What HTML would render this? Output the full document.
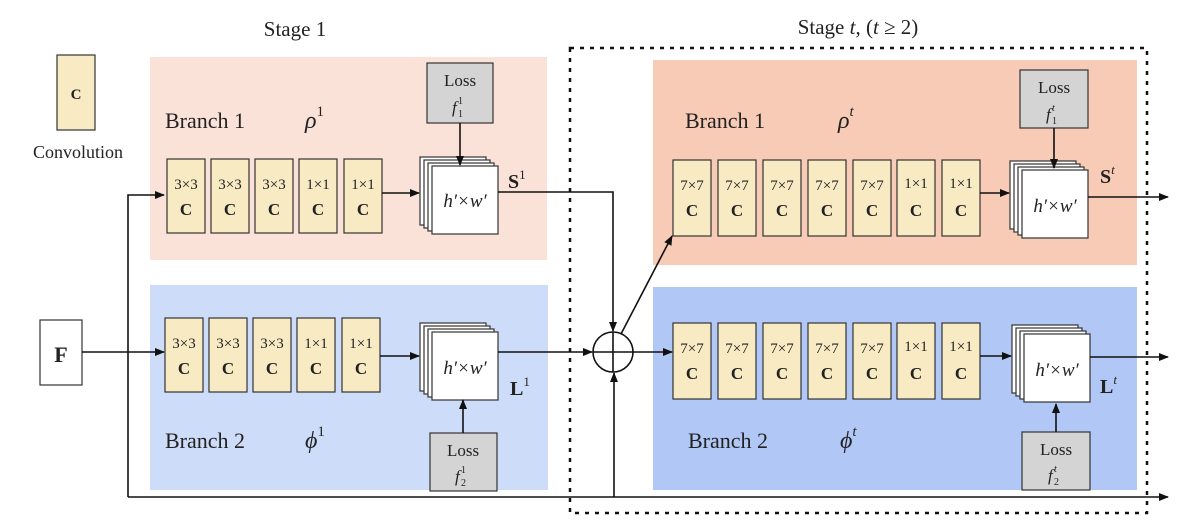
<!DOCTYPE html>
<html><head><meta charset="utf-8"><style>
body{margin:0;background:#fff}
svg{display:block}
text{font-family:"Liberation Serif","DejaVu Serif",serif;fill:#222}
</style></head><body>
<svg width="1177" height="527" viewBox="0 0 1177 527" xmlns="http://www.w3.org/2000/svg">
<defs>
<marker id="a" markerWidth="10" markerHeight="8" refX="9" refY="4" orient="auto" markerUnits="userSpaceOnUse">
<path d="M0,0 L10,4 L0,8 z" fill="#111"/></marker>
</defs>
<text x="295" y="36" font-size="21" text-anchor="middle">Stage 1</text>
<text x="858" y="34" font-size="21" text-anchor="middle">Stage <tspan font-style="italic">t</tspan>, (<tspan font-style="italic">t</tspan> ≥ 2)</text>
<rect x="57" y="55" width="38" height="75" fill="#f8ebc4" stroke="#333" stroke-width="1.2"/>
<text x="76" y="99" font-size="15" font-weight="bold" text-anchor="middle">C</text>
<text x="78" y="158" font-size="18" text-anchor="middle">Convolution</text>
<rect x="150" y="57" width="397" height="203" fill="#fbe2d9"/>
<rect x="150" y="285" width="398" height="205" fill="#cddcf9"/>
<rect x="653" y="60" width="484" height="205" fill="#f8cbb6"/>
<rect x="653" y="287" width="484" height="203" fill="#b1c7f5"/>
<rect x="570" y="48" width="577" height="465" fill="none" stroke="#111" stroke-width="2.5" stroke-dasharray="4,6"/>
<text x="165" y="128" font-size="22">Branch 1</text>
<text x="305" y="128" font-size="24" font-style="italic">ρ<tspan font-size="15" font-style="normal" dy="-12">1</tspan></text>
<text x="165" y="448" font-size="22">Branch 2</text>
<text x="305" y="448" font-size="24" font-style="italic">ϕ<tspan font-size="15" font-style="normal" dy="-12">1</tspan></text>
<text x="685" y="128" font-size="22">Branch 1</text>
<text x="838" y="128" font-size="24" font-style="italic">ρ<tspan font-size="15" dy="-12">t</tspan></text>
<text x="688" y="448" font-size="22">Branch 2</text>
<text x="840" y="448" font-size="24" font-style="italic">ϕ<tspan font-size="15" dy="-12">t</tspan></text>
<g font-size="15" text-anchor="middle">
<g id="r1">
<rect x="167" y="159" width="38" height="74" fill="#f8ebc4" stroke="#333" stroke-width="1.2"/><text x="186" y="189">3×3</text><text x="186" y="215" font-weight="bold" font-size="17">C</text>
<rect x="211" y="159" width="38" height="74" fill="#f8ebc4" stroke="#333" stroke-width="1.2"/><text x="230" y="189">3×3</text><text x="230" y="215" font-weight="bold" font-size="17">C</text>
<rect x="255" y="159" width="38" height="74" fill="#f8ebc4" stroke="#333" stroke-width="1.2"/><text x="274" y="189">3×3</text><text x="274" y="215" font-weight="bold" font-size="17">C</text>
<rect x="299" y="159" width="38" height="74" fill="#f8ebc4" stroke="#333" stroke-width="1.2"/><text x="318" y="189">1×1</text><text x="318" y="215" font-weight="bold" font-size="17">C</text>
<rect x="344" y="159" width="38" height="74" fill="#f8ebc4" stroke="#333" stroke-width="1.2"/><text x="363" y="189">1×1</text><text x="363" y="215" font-weight="bold" font-size="17">C</text>
</g>
<use href="#r1" transform="translate(-2,159)"/>
<g id="r2">
<rect x="673" y="160" width="38" height="76" fill="#f8ebc4" stroke="#333" stroke-width="1.2"/><text x="692" y="190">7×7</text><text x="692" y="216" font-weight="bold" font-size="17">C</text>
<rect x="718" y="160" width="38" height="76" fill="#f8ebc4" stroke="#333" stroke-width="1.2"/><text x="737" y="190">7×7</text><text x="737" y="216" font-weight="bold" font-size="17">C</text>
<rect x="763" y="160" width="38" height="76" fill="#f8ebc4" stroke="#333" stroke-width="1.2"/><text x="782" y="190">7×7</text><text x="782" y="216" font-weight="bold" font-size="17">C</text>
<rect x="808" y="160" width="38" height="76" fill="#f8ebc4" stroke="#333" stroke-width="1.2"/><text x="827" y="190">7×7</text><text x="827" y="216" font-weight="bold" font-size="17">C</text>
<rect x="853" y="160" width="38" height="76" fill="#f8ebc4" stroke="#333" stroke-width="1.2"/><text x="872" y="190">7×7</text><text x="872" y="216" font-weight="bold" font-size="17">C</text>
<rect x="897" y="160" width="38" height="76" fill="#f8ebc4" stroke="#333" stroke-width="1.2"/><text x="916" y="188">1×1</text><text x="916" y="216" font-weight="bold" font-size="17">C</text>
<rect x="942" y="160" width="38" height="76" fill="#f8ebc4" stroke="#333" stroke-width="1.2"/><text x="961" y="188">1×1</text><text x="961" y="216" font-weight="bold" font-size="17">C</text>
</g>
<use href="#r2" transform="translate(0,163)"/>
</g>
<g id="m1" stroke="#333" stroke-width="1.2" fill="#fff">
<rect x="420" y="157" width="66" height="68"/><rect x="424" y="160" width="66" height="68"/><rect x="428" y="163" width="66" height="68"/><rect x="432" y="166" width="66" height="68"/>
</g>
<text x="465" y="207" font-size="19" font-style="italic" text-anchor="middle">h′×w′</text>
<use href="#m1" transform="translate(0,166)"/>
<text x="465" y="374" font-size="19" font-style="italic" text-anchor="middle">h′×w′</text>
<use href="#m1" transform="translate(590,4)"/>
<text x="1055" y="212" font-size="19" font-style="italic" text-anchor="middle">h′×w′</text>
<use href="#m1" transform="translate(592,168)"/>
<text x="1057" y="376" font-size="19" font-style="italic" text-anchor="middle">h′×w′</text>
<g stroke="#333" stroke-width="1.2" fill="#d4d4d4">
<rect x="427" y="63" width="66" height="60"/><rect x="430" y="433" width="67" height="58"/>
<rect x="1020" y="70" width="68" height="58"/><rect x="1022" y="432" width="68" height="58"/>
</g>
<g font-size="17" text-anchor="middle">
<text x="460" y="86">Loss</text>
<text x="1054" y="93">Loss</text>
<text x="463" y="456">Loss</text>
<text x="1056" y="455">Loss</text>
</g>
<g font-size="17" font-style="italic">
<text x="452" y="113">f</text><text x="458" y="104" font-size="10" font-style="normal">1</text><text x="458" y="117" font-size="10" font-style="normal">1</text>
<text x="455" y="482">f</text><text x="461" y="473" font-size="10" font-style="normal">1</text><text x="461" y="486" font-size="10" font-style="normal">2</text>
<text x="1046" y="120">f</text><text x="1052" y="111" font-size="10">t</text><text x="1052" y="124" font-size="10" font-style="normal">1</text>
<text x="1048" y="481">f</text><text x="1054" y="472" font-size="10">t</text><text x="1054" y="485" font-size="10" font-style="normal">2</text>
</g>
<text x="508" y="188" font-size="20" font-weight="bold">S<tspan font-size="13" font-weight="normal" dy="-9">1</tspan></text>
<text x="510" y="395" font-size="20" font-weight="bold">L<tspan font-size="13" font-weight="normal" dy="-9">1</tspan></text>
<text x="1100" y="183" font-size="20" font-weight="bold">S<tspan font-size="13" font-weight="normal" font-style="italic" dy="-9">t</tspan></text>
<text x="1100" y="393" font-size="20" font-weight="bold">L<tspan font-size="13" font-weight="normal" font-style="italic" dy="-9">t</tspan></text>
<rect x="40" y="320" width="42" height="65" fill="#fff" stroke="#333" stroke-width="1.2"/>
<text x="61" y="362" font-size="22" font-weight="bold" text-anchor="middle">F</text>
<g stroke="#111" stroke-width="1.6" fill="none">
<line x1="82" y1="352" x2="164" y2="352" marker-end="url(#a)"/>
<polyline points="128,497 128,195 164,195" marker-end="url(#a)"/>
<line x1="128" y1="497" x2="1168" y2="497" marker-end="url(#a)"/>
<line x1="382" y1="193" x2="419" y2="193" marker-end="url(#a)"/>
<line x1="380" y1="356" x2="419" y2="356" marker-end="url(#a)"/>
<line x1="460" y1="123" x2="460" y2="165" marker-end="url(#a)"/>
<line x1="463" y1="433" x2="463" y2="400" marker-end="url(#a)"/>
<polyline points="498,192 613,192 613,331" marker-end="url(#a)"/>
<line x1="498" y1="352" x2="592" y2="352" marker-end="url(#a)"/>
<line x1="614" y1="497" x2="614" y2="373" marker-end="url(#a)"/>
<circle cx="613" cy="352" r="20"/>
<line x1="593" y1="352" x2="633" y2="352"/><line x1="613" y1="332" x2="613" y2="372"/>
<line x1="621" y1="334" x2="672" y2="236" marker-end="url(#a)"/>
<line x1="633" y1="352" x2="672" y2="352" marker-end="url(#a)"/>
<line x1="980" y1="193" x2="1009" y2="193" marker-end="url(#a)"/>
<line x1="980" y1="356" x2="1011" y2="356" marker-end="url(#a)"/>
<line x1="1054" y1="128" x2="1054" y2="168" marker-end="url(#a)"/>
<line x1="1056" y1="432" x2="1056" y2="404" marker-end="url(#a)"/>
<line x1="1088" y1="197" x2="1168" y2="197" marker-end="url(#a)"/>
<line x1="1090" y1="357" x2="1168" y2="357" marker-end="url(#a)"/>
</g>
</svg>
</body></html>
